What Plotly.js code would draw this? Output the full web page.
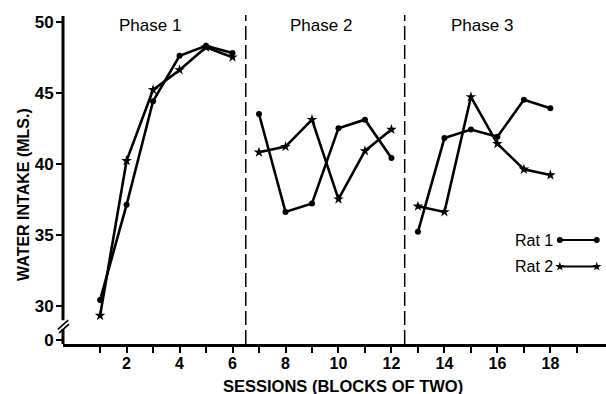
<!DOCTYPE html>
<html>
<head>
<meta charset="utf-8">
<script src="https://cdn.plot.ly/plotly-3.0.1.min.js"></script>
<style>html,body{margin:0;padding:0;background:#fff;}#chart{width:606px;height:394px;}</style>
</head>
<body>
<div id="chart"></div>
<script>
// Data
const sessions = [1,2,3,4,5,6,7,8,9,10,11,12,13,14,15,16,17,18];
const rat1 = [30.4,37.1,44.4,47.6,48.3,47.8, 43.5,36.6,37.2,42.5,43.1,40.4, 35.2,41.8,42.4,41.9,44.5,43.9];
const rat2 = [29.3,40.2,45.2,46.6,48.2,47.5, 40.8,41.2,43.1,37.5,40.9,42.4, 37.0,36.6,44.7,41.4,39.6,39.2];
const phases = [{name:'Phase 1', idx:[0,6]}, {name:'Phase 2', idx:[6,12]}, {name:'Phase 3', idx:[12,18]}];
const phaseLabels = ['Phase 1','Phase 2','Phase 3'];
const phaseLabelX = [2.9, 9.35, 15.4];
const phaseBounds = [6.5, 12.5];
const yTickVals = [27.57,30,35,40,45,50];
const yTickText = ['0','30','35','40','45','50'];
const xTickVals = [1,2,3,4,5,6,7,8,9,10,11,12,13,14,15,16,17,18,19];
const xTickText = xTickVals.map(v => v % 2 === 0 ? String(v) : '');
const seriesNames = ['Rat 1','Rat 2'];

const traces = [];
const lineStyle = {color:'#000', width:2.6};
phases.forEach(p => {
  const xs = sessions.slice(p.idx[0], p.idx[1]);
  traces.push({x: xs, y: rat1.slice(p.idx[0], p.idx[1]), type:'scatter', mode:'lines+markers',
    line: lineStyle, marker:{symbol:'circle', size:6, color:'#000'}, showlegend:false, hoverinfo:'skip'});
  traces.push({x: xs, y: rat2.slice(p.idx[0], p.idx[1]), type:'scatter', mode:'lines+markers',
    line: lineStyle, marker:{symbol:'star', size:8, color:'#000'}, showlegend:false, hoverinfo:'skip'});
});
// legend keys on overlay axes
traces.push({x:[0.915,0.983], y:[0.317,0.317], xaxis:'x2', yaxis:'y2', type:'scatter', mode:'lines+markers',
  line:{color:'#000', width:2}, marker:{symbol:'circle', size:6, color:'#000'}, showlegend:false, hoverinfo:'skip'});
traces.push({x:[0.915,0.983], y:[0.236,0.236], xaxis:'x2', yaxis:'y2', type:'scatter', mode:'lines+markers',
  line:{color:'#000', width:2}, marker:{symbol:'star', size:7, color:'#000'}, showlegend:false, hoverinfo:'skip'});

const font = 'Liberation Sans, Arial, sans-serif';
const shapes = [];
phaseBounds.forEach(b => shapes.push({type:'line', xref:'x', yref:'paper', x0:b, x1:b, y0:0, y1:1.003,
  line:{color:'#000', width:1.5, dash:'14px,5px'}}));
// y axis line with break
shapes.push({type:'line', xref:'paper', yref:'y', x0:0, x1:0, y0:50.4, y1:28.98, line:{color:'#000', width:3}});
shapes.push({type:'line', xref:'paper', yref:'y', x0:0, x1:0, y0:28.35, y1:27.3, line:{color:'#000', width:3}});
shapes.push({type:'line', xref:'paper', yref:'y', x0:-0.0095, x1:0.0095, y0:28.33, y1:28.98, line:{color:'#000', width:1.6}});
shapes.push({type:'line', xref:'paper', yref:'y', x0:-0.007, x1:0.011, y0:28.08, y1:28.7, line:{color:'#000', width:1.6}});

const annotations = [];
phaseLabels.forEach((t,i) => annotations.push({text:t, x:phaseLabelX[i], xref:'x', y:0.97, yref:'paper',
  showarrow:false, xanchor:'center', yanchor:'middle', font:{family:font, size:17, color:'#000'}}));
annotations.push({text:seriesNames[0], x:0.906, xref:'paper', y:0.317, yref:'paper', showarrow:false,
  xanchor:'right', yanchor:'middle', font:{family:font, size:16, color:'#000'}});
annotations.push({text:seriesNames[1], x:0.906, xref:'paper', y:0.236, yref:'paper', showarrow:false,
  xanchor:'right', yanchor:'middle', font:{family:font, size:16, color:'#000'}});
annotations.push({text:'<b>SESSIONS (BLOCKS OF TWO)</b>', x:0.516, xref:'paper', y:-0.128, yref:'paper', showarrow:false,
  xanchor:'center', yanchor:'middle', font:{family:font, size:16.5, color:'#000'}});
annotations.push({text:'<b>WATER INTAKE (MLS.)</b>', x:-0.074, xref:'paper', y:0.457, yref:'paper', showarrow:false,
  textangle:-90, xanchor:'center', yanchor:'middle', font:{family:font, size:16, color:'#000'}});

const layout = {
  width:606, height:394,
  margin:{l:63, r:0, t:16, b:50},
  paper_bgcolor:'#fff', plot_bgcolor:'#fff',
  showlegend:false,
  xaxis:{range:[-0.4,20.1], tickvals:xTickVals, ticktext:xTickText, ticks:'outside', ticklen:6, tickwidth:2,
    ticklabelstandoff:-3,
    tickcolor:'#000', showline:true, linewidth:3, linecolor:'#000', showgrid:false, zeroline:false,
    tickfont:{family:font, size:16, color:'#000', weight:'bold'}},
  yaxis:{range:[27.3,50.4], tickvals:yTickVals, ticktext:yTickText, ticks:'outside', ticklen:6, tickwidth:2,
    ticklabelstandoff:-1,
    tickcolor:'#000', showline:false, showgrid:false, zeroline:false,
    tickfont:{family:font, size:17, color:'#000', weight:'bold'}},
  xaxis2:{overlaying:'x', range:[0,1], visible:false},
  yaxis2:{overlaying:'y', range:[0,1], visible:false},
  shapes: shapes,
  annotations: annotations
};
Plotly.newPlot('chart', traces, layout, {staticPlot:true, displayModeBar:false});
</script>
</body>
</html>
